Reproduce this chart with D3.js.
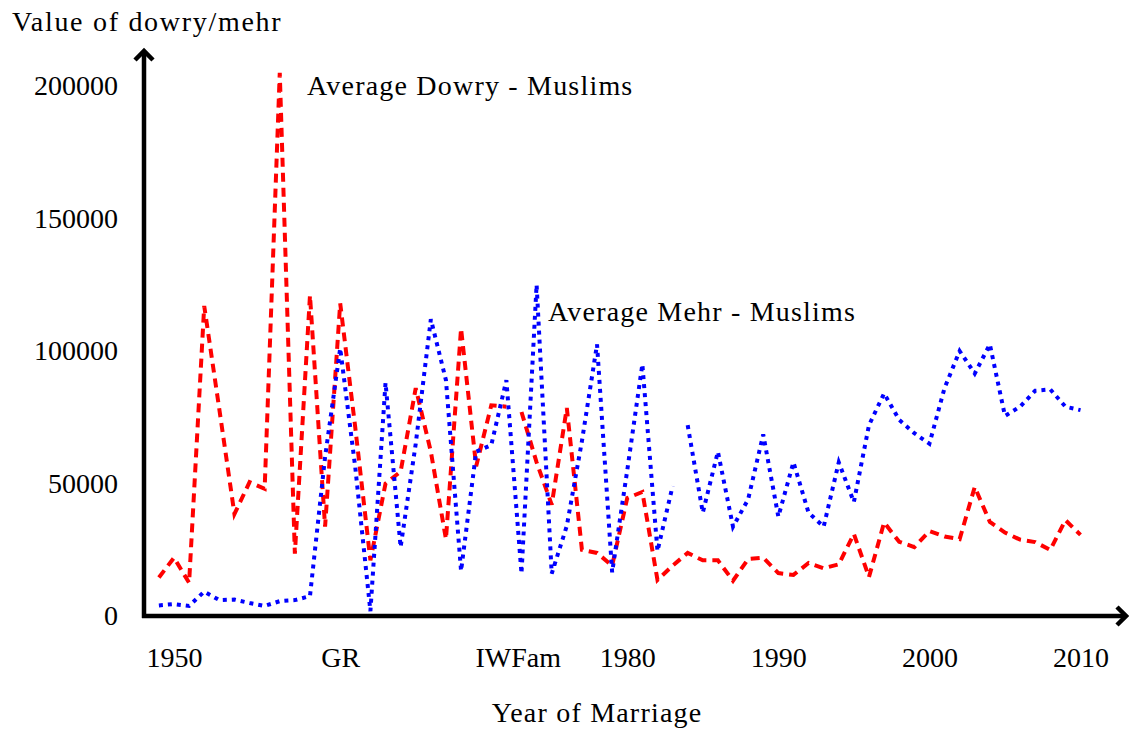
<!DOCTYPE html>
<html lang="en">
<head>
  <meta charset="UTF-8">
  <title>Dowry and Mehr by Year of Marriage (D3.js)</title>
  <script src="https://d3js.org/d3.v7.min.js"></script>
  <style>
    body { margin: 0; background: #fff; }
    svg text {
      font-family: "Liberation Serif", "DejaVu Serif", serif;
      font-size: 28px;
      fill: #000;
    }
    .word { letter-spacing: 1.2px; }
    .axis-line {
      fill: none;
      stroke: #000;
      stroke-width: 4.5px;
    }
    .dowry {
      fill: none;
      stroke: #ff0000;
      stroke-width: 4px;
      stroke-dasharray: 9 6;
    }
    .mehr {
      fill: none;
      stroke: #0000ff;
      stroke-width: 4px;
      stroke-dasharray: 4 5;
    }
  </style>
</head>
<body>
  <svg width="1129" height="733"></svg>
  <script>
    const years = d3.range(1949, 2011);

    // average dowry, Muslims (red dashed)
    const dowry = [
      14500, 22000, 12500, 117000, 78000, 38500, 50500, 48000, 205000, 23500,
      121000, 33700, 118000, 71000, 21000, 50000, 54500, 86000, 62000, 29000,
      108500, 56500, 79500, 79000, 77000, 58000, 42000, 78500, 25000, 23800,
      19000, 44500, 46800, 13600, 19000, 23800, 21000, 21000, 13300, 21500,
      22000, 16200, 15500, 20000, 18000, 19500, 31000, 14700, 35300, 28000,
      26000, 32000, 30000, 29000, 48700, 35500, 31500, 28800, 27900, 24900,
      36200, 30600
    ];

    // average mehr, Muslims (blue dotted)
    const mehr = [
      4000, 4500, 3800, 9200, 6000, 6200, 4900, 3800, 5600, 6000,
      7500, 60000, 101000, 56000, 1800, 88000, 26000, 65000, 112000, 89000,
      17000, 62000, 64500, 89000, 16000, 125000, 16000, 34000, 66000, 102500,
      16500, 55000, 95000, 24500, 49000, 72000, 39000, 62000, 33700, 44000,
      68500, 37500, 58000, 39000, 33700, 58000, 43000, 72000, 84000, 74000,
      69000, 65000, 86000, 100000, 91500, 102500, 75500, 79000, 85000, 85500,
      79000, 77700
    ];

    // years after which a series is not joined to the next one
    const dowryBreaks = [1972];
    const mehrBreaks = [1983];

    const yTicks = [0, 50000, 100000, 150000, 200000];
    const xTickValues = [1950, 1961, 1972.75, 1980, 1990, 2000, 2010];
    const xTickLabels = ["1950", "GR", "IWFam", "1980", "1990", "2000", "2010"];

    const svg = d3.select("svg");

    const x = d3.scaleLinear().domain([1950, 2010]).range([174, 1080.5]);
    const y = d3.scaleLinear().domain([0, 200000]).range([616, 86]);

    // build points, inserting a gap marker after break years
    function points(values, breaks) {
      const pts = [];
      years.forEach((yr, i) => {
        pts.push({ year: yr, value: values[i] });
        if (breaks.includes(yr)) pts.push({ year: yr + 0.5, value: null });
      });
      return pts;
    }

    const line = d3.line()
      .defined(d => d.value !== null)
      .x(d => x(d.year))
      .y(d => y(d.value));

    svg.append("path")
      .attr("class", "dowry")
      .attr("d", line(points(dowry, dowryBreaks)));

    svg.append("path")
      .attr("class", "mehr")
      .attr("d", line(points(mehr, mehrBreaks)));

    // axes (tick labels only)
    const yAxis = svg.append("g")
      .attr("transform", "translate(144,0)")
      .call(d3.axisLeft(y).tickValues(yTicks).tickSize(0).tickPadding(26).tickFormat(d3.format("d")));

    const xAxis = svg.append("g")
      .attr("transform", "translate(0,616)")
      .call(d3.axisBottom(x).tickValues(xTickValues).tickSize(0).tickPadding(31)
        .tickFormat((d, i) => xTickLabels[i]));

    [yAxis, xAxis].forEach(g => {
      g.select(".domain").remove();
      g.attr("font-family", null).attr("font-size", null);
    });

    // axis lines with open arrow heads
    svg.append("path")
      .attr("class", "axis-line")
      .attr("d", "M144,618 L144,51");
    svg.append("path")
      .attr("class", "axis-line")
      .attr("d", "M135,60 L144,51 L153,60");
    svg.append("path")
      .attr("class", "axis-line")
      .attr("d", "M142,616 L1126,616");
    svg.append("path")
      .attr("class", "axis-line")
      .attr("d", "M1117,607 L1126,616 L1117,625");

    // titles
    svg.append("text")
      .attr("class", "word")
      .attr("x", 12)
      .attr("y", 31)
      .style("letter-spacing", "1.7px")
      .text("Value of dowry/mehr");

    svg.append("text")
      .attr("class", "word")
      .attr("x", 597)
      .attr("y", 722)
      .attr("text-anchor", "middle")
      .text("Year of Marriage");

    // series labels
    svg.append("text")
      .attr("class", "word")
      .attr("x", 307)
      .attr("y", 95)
      .text("Average Dowry - Muslims");

    svg.append("text")
      .attr("class", "word")
      .attr("x", 548)
      .attr("y", 321)
      .text("Average Mehr - Muslims");
  </script>
</body>
</html>
